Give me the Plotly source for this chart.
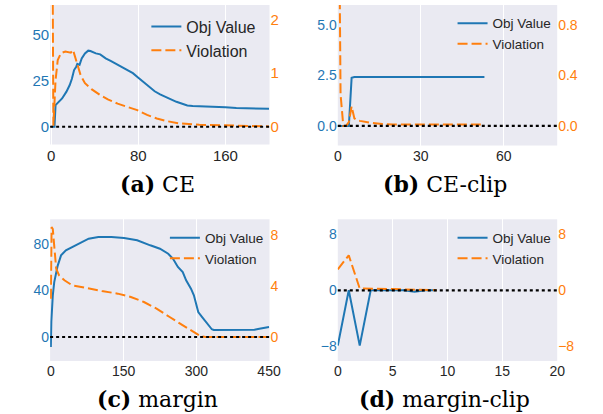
import plotly.graph_objects as go

# ---------------- data ----------------
# (a) CE
a_obj_x = [0, 1, 2, 3, 4, 6, 10, 14, 17, 19, 21, 23, 24, 26, 28, 31, 34, 36, 38, 41, 45, 50, 55, 60, 65, 70, 75,
           80, 85, 90, 95, 100, 105, 110, 115, 120, 125, 130, 135, 140, 150, 160, 170, 180, 190, 200]
a_obj_y = [0, 0, 0, 0, 11.7, 13, 15.3, 19, 22.6, 26, 30.7, 32.5, 34, 33.5, 37, 39.7, 41.2, 41, 40.3, 39.7, 39.2,
           37, 35.5, 33.8, 32.5, 30.8, 29, 26.5, 24, 21.8, 19.2, 17.5, 16, 14.8, 13.5, 12.3, 11.5, 11.3, 11.2,
           11.2, 11.0, 10.5, 10.1, 9.9, 9.8, 9.7]
a_vio_x = [0, 1, 2, 3, 4, 6, 9, 13, 18, 20, 22, 24, 27, 31, 37, 45, 52, 61, 70, 79, 88, 97, 106, 118, 136, 154,
           172, 200]
a_vio_y = [8.0, 3.0, 0.02, 0.45, 0.87, 1.24, 1.37, 1.40, 1.38, 1.43, 1.30, 1.15, 0.96, 0.81, 0.70, 0.59, 0.51,
           0.43, 0.37, 0.31, 0.22, 0.155, 0.106, 0.062, 0.037, 0.025, 0.012, 0.006]

# (b) CE-clip
b_obj_x = [0, 1, 2, 3, 4, 5, 6, 10, 20, 30, 40, 53]
b_obj_y = [0, 0, 0, 0, 0, 2.38, 2.42, 2.42, 2.42, 2.42, 2.42, 2.42]
b_vio_x = [0, 1, 2, 3, 4, 5, 6, 7, 8, 10, 12, 16, 20, 30, 40, 52]
b_vio_y = [3.0, 0.25, 0.0, 0.0, 0.03, 0.155, 0.06, 0.045, 0.04, 0.03, 0.024, 0.015, 0.012, 0.011, 0.011, 0.011]

# (c) margin
c_obj_x = [0, 1, 4, 7, 14, 21, 31, 44, 58, 78, 98, 125, 151, 178, 205, 225, 242, 252, 262, 272, 279, 289, 295,
           299, 304, 312, 322, 332, 336, 420, 430, 450]
c_obj_y = [-8.6, 13, 35.7, 47, 61, 70, 74.3, 77, 80, 84.3, 85.7, 85.7, 84.9, 82.9, 78.6, 75.7, 71.4, 67, 60, 55.7,
           48.6, 41.4, 35.7, 28.6, 21.4, 17.1, 11.4, 6.6, 6.0, 6.3, 7.1, 8.6]
c_vio_x = [0, 1.5, 4, 7, 11, 17, 28, 44, 71, 105, 138, 165, 192, 218, 245, 272, 295, 309, 319, 450]
c_vio_y = [3.0, 8.66, 8.5, 6.95, 5.38, 4.85, 4.46, 4.07, 3.86, 3.62, 3.41, 3.15, 2.75, 2.23, 1.57, 0.92, 0.34,
           0.05, 0.0, 0.0]

# (d) margin-clip
d_x = [0, 1, 2, 3, 4, 5, 6, 7, 8, 9]
d_obj_y = [-7.9, 0, -7.9, 0, 0, 0, 0, -0.2, 0, 0]
d_vio_y = [3.0, 5.0, 0.25, 0.25, 0.22, 0.18, 0.12, 0.08, 0.04, 0.02]

# ticks
a_xticks = [0, 80, 160]
a_lticks = [0, 25, 50]
a_rticks = [0, 1, 2]
b_xticks = [0, 30, 60]
b_lticks = [0, 2.5, 5.0]
b_lticktext = ["0.0", "2.5", "5.0"]
b_rticks = [0, 0.4, 0.8]
b_rticktext = ["0.0", "0.4", "0.8"]
c_xticks = [0, 150, 300, 450]
c_lticks = [0, 40, 80]
c_rticks = [0, 4, 8]
d_xticks = [0, 5, 10, 15, 20]
d_lticks = [-8, 0, 8]
d_rticks = [-8, 0, 8]

titles = ["<b>(a)</b> CE", "<b>(b)</b> CE-clip", "<b>(c)</b> margin", "<b>(d)</b> margin-clip"]
series_names = ["Obj Value", "Violation"]

# ---------------- styling ----------------
W, H = 603, 414
BLUE = "#1f77b4"
ORANGE = "#ff7f0e"
BG = "#EAEAF2"
TXT = "#262626"
SANS = "Liberation Sans, Arial, sans-serif"
SERIF = "DejaVu Serif, serif"

def px_x(a, b):
    return [a / W, b / W]

def px_y(top, bottom):
    return [1 - bottom / H, 1 - top / H]

panels = [
    dict(xd=px_x(47.3, 272.3), yd=px_y(5, 144.5), xr=[-1, 200.5], lr=[-9.6, 65.9], rr=[-0.33, 2.266],
         xt=a_xticks, lt=a_lticks, ltt=None, rt=a_rticks, rtt=None,
         ox=a_obj_x, oy=a_obj_y, vx=a_vio_x, vy=a_vio_y, tf=15, lf=16, leg=(146, 25), tt=(157, 184)),
    dict(xd=px_x(342.3, 567.3), yd=px_y(5, 145.5), xr=[0, 79.3], lr=[-0.97, 5.99], rr=[-0.155, 0.958],
         xt=b_xticks, lt=b_lticks, ltt=b_lticktext, rt=b_rticks, rtt=b_rticktext,
         ox=b_obj_x, oy=b_obj_y, vx=b_vio_x, vy=b_vio_y, tf=14, lf=13.5, leg=(460, 21.7), tt=(452, 184)),
    dict(xd=px_x(47.3, 272.3), yd=px_y(219.3, 361), xr=[-1.5, 451], lr=[-20.6, 100.9], rr=[-1.89, 9.26],
         xt=c_xticks, lt=c_lticks, ltt=None, rt=c_rticks, rtt=None,
         ox=c_obj_x, oy=c_obj_y, vx=c_vio_x, vy=c_vio_y, tf=14, lf=13.5, leg=(165, 236.3), tt=(157, 399)),
    dict(xd=px_x(342.3, 567.3), yd=px_y(219.3, 361), xr=[0, 20], lr=[-10.1, 10.14], rr=[-10.1, 10.14],
         xt=d_xticks, lt=d_lticks, ltt=None, rt=d_rticks, rtt=None,
         ox=d_x, oy=d_obj_y, vx=d_x, vy=d_vio_y, tf=14, lf=13.5, leg=(460, 236.3), tt=(452, 399)),
]

fig = go.Figure()
layout = dict(width=W, height=H, autosize=False, margin=dict(l=0, r=0, t=0, b=0),
              paper_bgcolor="white", plot_bgcolor=BG, showlegend=True)
shapes = []
annotations = []

for i, p in enumerate(panels):
    n = i + 1
    xname = "xaxis" if n == 1 else f"xaxis{n}"
    xref = "x" if n == 1 else f"x{n}"
    ly = 2 * n - 1
    ry = 2 * n
    lyname = "yaxis" if ly == 1 else f"yaxis{ly}"
    lyref = "y" if ly == 1 else f"y{ly}"
    ryname = f"yaxis{ry}"
    ryref = f"y{ry}"
    legname = "legend" if n == 1 else f"legend{n}"

    layout[xname] = dict(domain=p["xd"], range=p["xr"], anchor=lyref, tickvals=p["xt"],
                         showgrid=True, gridcolor="white", gridwidth=1, zeroline=False, showline=False,
                         ticks="", tickfont=dict(family=SANS, size=p["tf"], color=TXT))
    layout[lyname] = dict(domain=p["yd"], range=p["lr"], anchor=xref, tickvals=p["lt"],
                          showgrid=False, zeroline=False, showline=False, ticks="",
                          tickfont=dict(family=SANS, size=p["tf"], color=BLUE))
    if p["ltt"]:
        layout[lyname]["ticktext"] = p["ltt"]
    layout[ryname] = dict(range=p["rr"], anchor=xref, overlaying=lyref, side="right", tickvals=p["rt"],
                          showgrid=False, zeroline=False, showline=False, ticks="",
                          tickfont=dict(family=SANS, size=p["tf"], color=ORANGE))
    if p["rtt"]:
        layout[ryname]["ticktext"] = p["rtt"]

    fig.add_trace(go.Scatter(x=p["ox"], y=p["oy"], xaxis=xref, yaxis=lyref, mode="lines",
                             name=series_names[0], legend=legname,
                             line=dict(color=BLUE, width=2)))
    fig.add_trace(go.Scatter(x=p["vx"], y=p["vy"], xaxis=xref, yaxis=ryref, mode="lines",
                             name=series_names[1], legend=legname,
                             line=dict(color=ORANGE, width=2, dash="10px,4px")))

    shapes.append(dict(type="line", xref=f"{xref} domain", yref=lyref, x0=0, x1=1, y0=0, y1=0,
                       layer="above", line=dict(color="black", width=2.2, dash="dot")))

    bx, lyc = p["leg"]
    top = lyc - (5 + 0.65 * p["lf"])
    layout[legname] = dict(x=bx / W, y=1 - top / H, xanchor="left", yanchor="top",
                           bgcolor="rgba(0,0,0,0)", borderwidth=0, tracegroupgap=0,
                           font=dict(family=SANS, size=p["lf"], color=TXT))

    tx, ty = p["tt"]
    annotations.append(dict(text=titles[i], x=tx / W, y=1 - ty / H, xref="paper", yref="paper",
                            xanchor="center", yanchor="middle", showarrow=False,
                            font=dict(family=SERIF, size=22, color="black")))

layout["shapes"] = shapes
layout["annotations"] = annotations
fig.update_layout(**layout)

fig.write_html("out.html")
